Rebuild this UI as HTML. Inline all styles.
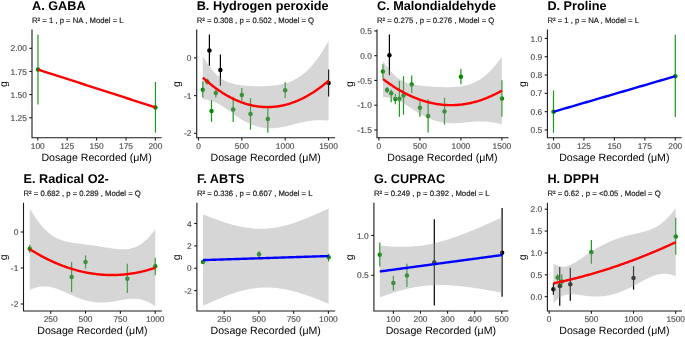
<!DOCTYPE html>
<html><head><meta charset="utf-8"><style>
html,body{margin:0;padding:0;background:#fff;}
svg{display:block;will-change:transform;} text{text-rendering:geometricPrecision;}
</style></head><body>
<svg width="685" height="337" viewBox="0 0 685 337">
<rect width="685" height="337" fill="#fff"/>
<text x="32.00" y="10.10" font-size="12.7" font-weight="bold" fill="#000" font-family="Liberation Sans, sans-serif">A. GABA</text>
<text x="32.00" y="23.10" font-size="7.72" fill="#1a1a1a" stroke="#1a1a1a" stroke-width="0.18" font-family="Liberation Sans, sans-serif">R² = 1 , p = NA , Model = L</text>
<text transform="translate(7.00,84.20) rotate(-90)" text-anchor="middle" font-size="10.5" fill="#000" font-family="Liberation Sans, sans-serif">g</text>
<line x1="37.95" y1="34.60" x2="37.95" y2="104.40" stroke="#1c981c" stroke-width="1.2"/>
<line x1="155.45" y1="82.00" x2="155.45" y2="132.60" stroke="#1c981c" stroke-width="1.2"/>
<circle cx="37.95" cy="69.50" r="2.25" fill="#008b00"/>
<circle cx="155.45" cy="107.40" r="2.25" fill="#008b00"/>
<polyline points="37.95,69.50 38.74,69.75 39.53,70.01 40.32,70.26 41.10,70.52 41.89,70.77 42.68,71.03 43.47,71.28 44.26,71.53 45.05,71.79 45.84,72.04 46.62,72.30 47.41,72.55 48.20,72.81 48.99,73.06 49.78,73.32 50.57,73.57 51.36,73.82 52.14,74.08 52.93,74.33 53.72,74.59 54.51,74.84 55.30,75.10 56.09,75.35 56.88,75.60 57.66,75.86 58.45,76.11 59.24,76.37 60.03,76.62 60.82,76.88 61.61,77.13 62.40,77.39 63.18,77.64 63.97,77.89 64.76,78.15 65.55,78.40 66.34,78.66 67.13,78.91 67.92,79.17 68.71,79.42 69.49,79.67 70.28,79.93 71.07,80.18 71.86,80.44 72.65,80.69 73.44,80.95 74.23,81.20 75.01,81.46 75.80,81.71 76.59,81.96 77.38,82.22 78.17,82.47 78.96,82.73 79.75,82.98 80.53,83.24 81.32,83.49 82.11,83.74 82.90,84.00 83.69,84.25 84.48,84.51 85.27,84.76 86.05,85.02 86.84,85.27 87.63,85.52 88.42,85.78 89.21,86.03 90.00,86.29 90.79,86.54 91.57,86.80 92.36,87.05 93.15,87.31 93.94,87.56 94.73,87.81 95.52,88.07 96.31,88.32 97.09,88.58 97.88,88.83 98.67,89.09 99.46,89.34 100.25,89.59 101.04,89.85 101.83,90.10 102.61,90.36 103.40,90.61 104.19,90.87 104.98,91.12 105.77,91.38 106.56,91.63 107.35,91.88 108.13,92.14 108.92,92.39 109.71,92.65 110.50,92.90 111.29,93.16 112.08,93.41 112.87,93.66 113.65,93.92 114.44,94.17 115.23,94.43 116.02,94.68 116.81,94.94 117.60,95.19 118.39,95.44 119.17,95.70 119.96,95.95 120.75,96.21 121.54,96.46 122.33,96.72 123.12,96.97 123.91,97.23 124.69,97.48 125.48,97.73 126.27,97.99 127.06,98.24 127.85,98.50 128.64,98.75 129.43,99.01 130.22,99.26 131.00,99.51 131.79,99.77 132.58,100.02 133.37,100.28 134.16,100.53 134.95,100.79 135.74,101.04 136.52,101.30 137.31,101.55 138.10,101.80 138.89,102.06 139.68,102.31 140.47,102.57 141.26,102.82 142.04,103.08 142.83,103.33 143.62,103.58 144.41,103.84 145.20,104.09 145.99,104.35 146.78,104.60 147.56,104.86 148.35,105.11 149.14,105.37 149.93,105.62 150.72,105.87 151.51,106.13 152.30,106.38 153.08,106.64 153.87,106.89 154.66,107.15 155.45,107.40" fill="none" stroke="#ff0000" stroke-opacity="1" stroke-width="2.4" stroke-linejoin="round"/>
<path d="M32.00,30.00 V137.80 H161.10" fill="none" stroke="#1a1a1a" stroke-width="1.1" stroke-linecap="square"/>
<line x1="29.30" y1="117.70" x2="32.00" y2="117.70" stroke="#1a1a1a" stroke-width="1.1"/>
<text x="26.80" y="120.80" text-anchor="end" font-size="8.4" fill="#4d4d4d" stroke="#4d4d4d" stroke-width="0.15" font-family="Liberation Sans, sans-serif">1.25</text>
<line x1="29.30" y1="94.57" x2="32.00" y2="94.57" stroke="#1a1a1a" stroke-width="1.1"/>
<text x="26.80" y="97.67" text-anchor="end" font-size="8.4" fill="#4d4d4d" stroke="#4d4d4d" stroke-width="0.15" font-family="Liberation Sans, sans-serif">1.50</text>
<line x1="29.30" y1="71.43" x2="32.00" y2="71.43" stroke="#1a1a1a" stroke-width="1.1"/>
<text x="26.80" y="74.53" text-anchor="end" font-size="8.4" fill="#4d4d4d" stroke="#4d4d4d" stroke-width="0.15" font-family="Liberation Sans, sans-serif">1.75</text>
<line x1="29.30" y1="48.30" x2="32.00" y2="48.30" stroke="#1a1a1a" stroke-width="1.1"/>
<text x="26.80" y="51.40" text-anchor="end" font-size="8.4" fill="#4d4d4d" stroke="#4d4d4d" stroke-width="0.15" font-family="Liberation Sans, sans-serif">2.00</text>
<line x1="37.80" y1="137.80" x2="37.80" y2="140.50" stroke="#1a1a1a" stroke-width="1.1"/>
<text x="37.80" y="148.60" text-anchor="middle" font-size="8.4" fill="#4d4d4d" stroke="#4d4d4d" stroke-width="0.15" font-family="Liberation Sans, sans-serif">100</text>
<line x1="67.20" y1="137.80" x2="67.20" y2="140.50" stroke="#1a1a1a" stroke-width="1.1"/>
<text x="67.20" y="148.60" text-anchor="middle" font-size="8.4" fill="#4d4d4d" stroke="#4d4d4d" stroke-width="0.15" font-family="Liberation Sans, sans-serif">125</text>
<line x1="96.60" y1="137.80" x2="96.60" y2="140.50" stroke="#1a1a1a" stroke-width="1.1"/>
<text x="96.60" y="148.60" text-anchor="middle" font-size="8.4" fill="#4d4d4d" stroke="#4d4d4d" stroke-width="0.15" font-family="Liberation Sans, sans-serif">150</text>
<line x1="126.00" y1="137.80" x2="126.00" y2="140.50" stroke="#1a1a1a" stroke-width="1.1"/>
<text x="126.00" y="148.60" text-anchor="middle" font-size="8.4" fill="#4d4d4d" stroke="#4d4d4d" stroke-width="0.15" font-family="Liberation Sans, sans-serif">175</text>
<line x1="155.40" y1="137.80" x2="155.40" y2="140.50" stroke="#1a1a1a" stroke-width="1.1"/>
<text x="155.40" y="148.60" text-anchor="middle" font-size="8.4" fill="#4d4d4d" stroke="#4d4d4d" stroke-width="0.15" font-family="Liberation Sans, sans-serif">200</text>
<text x="96.55" y="160.90" text-anchor="middle" font-size="10.6" fill="#000" font-family="Liberation Sans, sans-serif">Dosage Recorded (μM)</text>
<text x="196.70" y="10.10" font-size="12.7" font-weight="bold" fill="#000" font-family="Liberation Sans, sans-serif">B. Hydrogen peroxide</text>
<text x="196.70" y="23.10" font-size="7.72" fill="#1a1a1a" stroke="#1a1a1a" stroke-width="0.18" font-family="Liberation Sans, sans-serif">R² = 0.308 , p = 0.502 , Model = Q</text>
<text transform="translate(180.10,84.20) rotate(-90)" text-anchor="middle" font-size="10.5" fill="#000" font-family="Liberation Sans, sans-serif">g</text>
<line x1="202.83" y1="81.20" x2="202.83" y2="97.60" stroke="#1c981c" stroke-width="1.2"/>
<line x1="207.17" y1="78.70" x2="207.17" y2="84.50" stroke="#1c981c" stroke-width="1.2"/>
<line x1="209.40" y1="34.60" x2="209.40" y2="65.70" stroke="#000000" stroke-width="1.2"/>
<line x1="211.50" y1="100.00" x2="211.50" y2="121.80" stroke="#1c981c" stroke-width="1.2"/>
<line x1="215.83" y1="89.10" x2="215.83" y2="97.40" stroke="#1c981c" stroke-width="1.2"/>
<line x1="220.40" y1="54.50" x2="220.40" y2="85.70" stroke="#000000" stroke-width="1.2"/>
<line x1="233.17" y1="96.70" x2="233.17" y2="122.00" stroke="#1c981c" stroke-width="1.2"/>
<line x1="241.83" y1="87.90" x2="241.83" y2="101.00" stroke="#1c981c" stroke-width="1.2"/>
<line x1="250.50" y1="98.30" x2="250.50" y2="129.70" stroke="#1c981c" stroke-width="1.2"/>
<line x1="267.83" y1="105.60" x2="267.83" y2="132.70" stroke="#1c981c" stroke-width="1.2"/>
<line x1="285.17" y1="82.30" x2="285.17" y2="98.10" stroke="#1c981c" stroke-width="1.2"/>
<line x1="328.60" y1="69.50" x2="328.60" y2="96.60" stroke="#000000" stroke-width="1.2"/>
<circle cx="202.83" cy="89.70" r="2.25" fill="#008b00"/>
<circle cx="207.17" cy="81.40" r="2.25" fill="#008b00"/>
<circle cx="209.40" cy="50.40" r="2.25" fill="#000"/>
<circle cx="211.50" cy="110.90" r="2.25" fill="#008b00"/>
<circle cx="215.83" cy="92.90" r="2.25" fill="#008b00"/>
<circle cx="220.40" cy="69.90" r="2.25" fill="#000"/>
<circle cx="233.17" cy="109.60" r="2.25" fill="#008b00"/>
<circle cx="241.83" cy="95.00" r="2.25" fill="#008b00"/>
<circle cx="250.50" cy="114.00" r="2.25" fill="#008b00"/>
<circle cx="267.83" cy="118.90" r="2.25" fill="#008b00"/>
<circle cx="285.17" cy="90.20" r="2.25" fill="#008b00"/>
<circle cx="328.60" cy="83.00" r="2.25" fill="#000"/>
<polygon points="202.83,56.04 203.68,57.47 204.52,58.86 205.37,60.22 206.21,61.54 207.05,62.83 207.90,64.08 208.74,65.30 209.59,66.47 210.43,67.61 211.27,68.71 212.12,69.76 212.96,70.78 213.81,71.75 214.65,72.68 215.49,73.57 216.34,74.42 217.18,75.23 218.03,75.99 218.87,76.71 219.71,77.39 220.56,78.03 221.40,78.63 222.25,79.19 223.09,79.72 223.94,80.22 224.78,80.68 225.62,81.10 226.47,81.50 227.31,81.87 228.16,82.22 229.00,82.54 229.84,82.84 230.69,83.11 231.53,83.37 232.38,83.61 233.22,83.83 234.06,84.03 234.91,84.22 235.75,84.40 236.60,84.56 237.44,84.72 238.28,84.86 239.13,84.99 239.97,85.11 240.82,85.22 241.66,85.33 242.50,85.43 243.35,85.52 244.19,85.60 245.04,85.68 245.88,85.75 246.73,85.81 247.57,85.87 248.41,85.93 249.26,85.98 250.10,86.02 250.95,86.06 251.79,86.10 252.63,86.13 253.48,86.16 254.32,86.18 255.17,86.20 256.01,86.21 256.85,86.22 257.70,86.23 258.54,86.23 259.39,86.23 260.23,86.22 261.07,86.21 261.92,86.20 262.76,86.18 263.61,86.16 264.45,86.13 265.29,86.10 266.14,86.06 266.98,86.02 267.83,85.97 268.67,85.92 269.51,85.86 270.36,85.79 271.20,85.72 272.05,85.64 272.89,85.56 273.74,85.46 274.58,85.36 275.42,85.26 276.27,85.14 277.11,85.02 277.96,84.89 278.80,84.74 279.64,84.59 280.49,84.43 281.33,84.26 282.18,84.07 283.02,83.88 283.86,83.67 284.71,83.45 285.55,83.21 286.40,82.97 287.24,82.70 288.08,82.42 288.93,82.13 289.77,81.82 290.62,81.49 291.46,81.14 292.30,80.78 293.15,80.40 293.99,79.99 294.84,79.57 295.68,79.12 296.53,78.66 297.37,78.17 298.21,77.65 299.06,77.12 299.90,76.56 300.75,75.97 301.59,75.36 302.43,74.72 303.28,74.06 304.12,73.37 304.97,72.65 305.81,71.91 306.65,71.13 307.50,70.33 308.34,69.50 309.19,68.64 310.03,67.76 310.87,66.84 311.72,65.89 312.56,64.92 313.41,63.91 314.25,62.88 315.09,61.82 315.94,60.72 316.78,59.60 317.63,58.45 318.47,57.27 319.32,56.06 320.16,54.82 321.00,53.55 321.85,52.26 322.69,50.93 323.54,49.58 324.38,48.20 325.22,46.79 326.07,45.35 326.91,43.88 327.76,42.39 328.60,40.86 328.60,120.58 327.76,120.50 326.91,120.44 326.07,120.38 325.22,120.32 324.38,120.28 323.54,120.24 322.69,120.22 321.85,120.20 321.00,120.19 320.16,120.18 319.32,120.19 318.47,120.21 317.63,120.23 316.78,120.26 315.94,120.31 315.09,120.36 314.25,120.42 313.41,120.49 312.56,120.57 311.72,120.66 310.87,120.76 310.03,120.87 309.19,120.99 308.34,121.11 307.50,121.25 306.65,121.39 305.81,121.54 304.97,121.70 304.12,121.86 303.28,122.04 302.43,122.22 301.59,122.40 300.75,122.59 299.90,122.79 299.06,122.99 298.21,123.20 297.37,123.41 296.53,123.62 295.68,123.84 294.84,124.05 293.99,124.27 293.15,124.49 292.30,124.71 291.46,124.92 290.62,125.14 289.77,125.35 288.93,125.56 288.08,125.77 287.24,125.97 286.40,126.17 285.55,126.36 284.71,126.55 283.86,126.73 283.02,126.90 282.18,127.07 281.33,127.22 280.49,127.37 279.64,127.51 278.80,127.63 277.96,127.75 277.11,127.86 276.27,127.95 275.42,128.04 274.58,128.11 273.74,128.17 272.89,128.22 272.05,128.25 271.20,128.27 270.36,128.28 269.51,128.27 268.67,128.25 267.83,128.22 266.98,128.17 266.14,128.10 265.29,128.02 264.45,127.93 263.61,127.82 262.76,127.69 261.92,127.55 261.07,127.39 260.23,127.22 259.39,127.03 258.54,126.83 257.70,126.60 256.85,126.37 256.01,126.11 255.17,125.85 254.32,125.56 253.48,125.26 252.63,124.94 251.79,124.61 250.95,124.26 250.10,123.90 249.26,123.52 248.41,123.12 247.57,122.71 246.73,122.29 245.88,121.85 245.04,121.39 244.19,120.93 243.35,120.44 242.50,119.95 241.66,119.44 240.82,118.92 239.97,118.39 239.13,117.84 238.28,117.29 237.44,116.72 236.60,116.15 235.75,115.57 234.91,114.98 234.06,114.38 233.22,113.78 232.38,113.17 231.53,112.56 230.69,111.95 229.84,111.34 229.00,110.73 228.16,110.13 227.31,109.52 226.47,108.93 225.62,108.34 224.78,107.76 223.94,107.19 223.09,106.63 222.25,106.09 221.40,105.57 220.56,105.06 219.71,104.57 218.87,104.10 218.03,103.66 217.18,103.23 216.34,102.83 215.49,102.44 214.65,102.08 213.81,101.75 212.96,101.43 212.12,101.14 211.27,100.86 210.43,100.61 209.59,100.38 208.74,100.16 207.90,99.97 207.05,99.79 206.21,99.62 205.37,99.48 204.52,99.34 203.68,99.23 202.83,99.12" fill="#999999" fill-opacity="0.4" stroke="none"/>
<polyline points="202.83,77.58 203.68,78.35 204.52,79.10 205.37,79.85 206.21,80.58 207.05,81.31 207.90,82.02 208.74,82.73 209.59,83.42 210.43,84.11 211.27,84.78 212.12,85.45 212.96,86.10 213.81,86.75 214.65,87.38 215.49,88.01 216.34,88.62 217.18,89.23 218.03,89.82 218.87,90.41 219.71,90.98 220.56,91.55 221.40,92.10 222.25,92.64 223.09,93.18 223.94,93.70 224.78,94.22 225.62,94.72 226.47,95.21 227.31,95.70 228.16,96.17 229.00,96.64 229.84,97.09 230.69,97.53 231.53,97.97 232.38,98.39 233.22,98.80 234.06,99.21 234.91,99.60 235.75,99.98 236.60,100.36 237.44,100.72 238.28,101.07 239.13,101.42 239.97,101.75 240.82,102.07 241.66,102.38 242.50,102.69 243.35,102.98 244.19,103.26 245.04,103.54 245.88,103.80 246.73,104.05 247.57,104.29 248.41,104.53 249.26,104.75 250.10,104.96 250.95,105.16 251.79,105.35 252.63,105.54 253.48,105.71 254.32,105.87 255.17,106.02 256.01,106.16 256.85,106.30 257.70,106.42 258.54,106.53 259.39,106.63 260.23,106.72 261.07,106.80 261.92,106.87 262.76,106.94 263.61,106.99 264.45,107.03 265.29,107.06 266.14,107.08 266.98,107.09 267.83,107.09 268.67,107.08 269.51,107.06 270.36,107.03 271.20,107.00 272.05,106.95 272.89,106.89 273.74,106.82 274.58,106.74 275.42,106.65 276.27,106.55 277.11,106.44 277.96,106.32 278.80,106.19 279.64,106.05 280.49,105.90 281.33,105.74 282.18,105.57 283.02,105.39 283.86,105.20 284.71,105.00 285.55,104.79 286.40,104.57 287.24,104.34 288.08,104.10 288.93,103.85 289.77,103.59 290.62,103.31 291.46,103.03 292.30,102.74 293.15,102.44 293.99,102.13 294.84,101.81 295.68,101.48 296.53,101.14 297.37,100.79 298.21,100.43 299.06,100.05 299.90,99.67 300.75,99.28 301.59,98.88 302.43,98.47 303.28,98.05 304.12,97.62 304.97,97.17 305.81,96.72 306.65,96.26 307.50,95.79 308.34,95.31 309.19,94.81 310.03,94.31 310.87,93.80 311.72,93.28 312.56,92.75 313.41,92.20 314.25,91.65 315.09,91.09 315.94,90.52 316.78,89.93 317.63,89.34 318.47,88.74 319.32,88.13 320.16,87.50 321.00,86.87 321.85,86.23 322.69,85.57 323.54,84.91 324.38,84.24 325.22,83.55 326.07,82.86 326.91,82.16 327.76,81.44 328.60,80.72" fill="none" stroke="#ff0000" stroke-opacity="1" stroke-width="2.4" stroke-linejoin="round"/>
<path d="M196.70,30.00 V137.80 H334.60" fill="none" stroke="#1a1a1a" stroke-width="1.1" stroke-linecap="square"/>
<line x1="194.00" y1="133.30" x2="196.70" y2="133.30" stroke="#1a1a1a" stroke-width="1.1"/>
<text x="191.50" y="136.40" text-anchor="end" font-size="8.4" fill="#4d4d4d" stroke="#4d4d4d" stroke-width="0.15" font-family="Liberation Sans, sans-serif">-2</text>
<line x1="194.00" y1="95.60" x2="196.70" y2="95.60" stroke="#1a1a1a" stroke-width="1.1"/>
<text x="191.50" y="98.70" text-anchor="end" font-size="8.4" fill="#4d4d4d" stroke="#4d4d4d" stroke-width="0.15" font-family="Liberation Sans, sans-serif">-1</text>
<line x1="194.00" y1="57.90" x2="196.70" y2="57.90" stroke="#1a1a1a" stroke-width="1.1"/>
<text x="191.50" y="61.00" text-anchor="end" font-size="8.4" fill="#4d4d4d" stroke="#4d4d4d" stroke-width="0.15" font-family="Liberation Sans, sans-serif">0</text>
<line x1="198.50" y1="137.80" x2="198.50" y2="140.50" stroke="#1a1a1a" stroke-width="1.1"/>
<text x="198.50" y="148.60" text-anchor="middle" font-size="8.4" fill="#4d4d4d" stroke="#4d4d4d" stroke-width="0.15" font-family="Liberation Sans, sans-serif">0</text>
<line x1="241.83" y1="137.80" x2="241.83" y2="140.50" stroke="#1a1a1a" stroke-width="1.1"/>
<text x="241.83" y="148.60" text-anchor="middle" font-size="8.4" fill="#4d4d4d" stroke="#4d4d4d" stroke-width="0.15" font-family="Liberation Sans, sans-serif">500</text>
<line x1="285.17" y1="137.80" x2="285.17" y2="140.50" stroke="#1a1a1a" stroke-width="1.1"/>
<text x="285.17" y="148.60" text-anchor="middle" font-size="8.4" fill="#4d4d4d" stroke="#4d4d4d" stroke-width="0.15" font-family="Liberation Sans, sans-serif">1000</text>
<line x1="328.50" y1="137.80" x2="328.50" y2="140.50" stroke="#1a1a1a" stroke-width="1.1"/>
<text x="328.50" y="148.60" text-anchor="middle" font-size="8.4" fill="#4d4d4d" stroke="#4d4d4d" stroke-width="0.15" font-family="Liberation Sans, sans-serif">1500</text>
<text x="265.65" y="160.90" text-anchor="middle" font-size="10.6" fill="#000" font-family="Liberation Sans, sans-serif">Dosage Recorded (μM)</text>
<text x="377.00" y="10.10" font-size="12.7" font-weight="bold" fill="#000" font-family="Liberation Sans, sans-serif">C. Malondialdehyde</text>
<text x="377.00" y="23.10" font-size="7.72" fill="#1a1a1a" stroke="#1a1a1a" stroke-width="0.18" font-family="Liberation Sans, sans-serif">R² = 0.275 , p = 0.276 , Model = Q</text>
<text transform="translate(353.00,84.20) rotate(-90)" text-anchor="middle" font-size="10.5" fill="#000" font-family="Liberation Sans, sans-serif">g</text>
<line x1="383.00" y1="64.30" x2="383.00" y2="78.80" stroke="#1c981c" stroke-width="1.2"/>
<line x1="387.10" y1="87.00" x2="387.10" y2="92.90" stroke="#1c981c" stroke-width="1.2"/>
<line x1="389.40" y1="34.60" x2="389.40" y2="75.30" stroke="#000000" stroke-width="1.2"/>
<line x1="391.20" y1="89.70" x2="391.20" y2="102.20" stroke="#1c981c" stroke-width="1.2"/>
<line x1="395.30" y1="93.90" x2="395.30" y2="104.30" stroke="#1c981c" stroke-width="1.2"/>
<line x1="399.40" y1="80.80" x2="399.40" y2="116.70" stroke="#1c981c" stroke-width="1.2"/>
<line x1="403.50" y1="76.20" x2="403.50" y2="114.70" stroke="#1c981c" stroke-width="1.2"/>
<line x1="411.70" y1="75.60" x2="411.70" y2="92.90" stroke="#1c981c" stroke-width="1.2"/>
<line x1="419.90" y1="101.20" x2="419.90" y2="116.70" stroke="#1c981c" stroke-width="1.2"/>
<line x1="428.10" y1="99.20" x2="428.10" y2="132.40" stroke="#1c981c" stroke-width="1.2"/>
<line x1="444.50" y1="97.80" x2="444.50" y2="124.60" stroke="#1c981c" stroke-width="1.2"/>
<line x1="460.90" y1="69.00" x2="460.90" y2="84.30" stroke="#1c981c" stroke-width="1.2"/>
<line x1="501.90" y1="80.30" x2="501.90" y2="116.70" stroke="#1c981c" stroke-width="1.2"/>
<circle cx="383.00" cy="71.50" r="2.25" fill="#008b00"/>
<circle cx="387.10" cy="90.10" r="2.25" fill="#008b00"/>
<circle cx="389.40" cy="55.30" r="2.25" fill="#000"/>
<circle cx="391.20" cy="93.30" r="2.25" fill="#008b00"/>
<circle cx="395.30" cy="99.10" r="2.25" fill="#008b00"/>
<circle cx="399.40" cy="98.70" r="2.25" fill="#008b00"/>
<circle cx="403.50" cy="95.60" r="2.25" fill="#008b00"/>
<circle cx="411.70" cy="84.50" r="2.25" fill="#008b00"/>
<circle cx="419.90" cy="107.80" r="2.25" fill="#008b00"/>
<circle cx="428.10" cy="115.90" r="2.25" fill="#008b00"/>
<circle cx="444.50" cy="111.40" r="2.25" fill="#008b00"/>
<circle cx="460.90" cy="76.70" r="2.25" fill="#008b00"/>
<circle cx="501.90" cy="98.40" r="2.25" fill="#008b00"/>
<polygon points="383.00,60.90 383.80,62.09 384.60,63.25 385.39,64.38 386.19,65.48 386.99,66.56 387.79,67.61 388.59,68.62 389.38,69.61 390.18,70.56 390.98,71.49 391.78,72.37 392.58,73.23 393.37,74.05 394.17,74.84 394.97,75.59 395.77,76.30 396.57,76.98 397.36,77.62 398.16,78.23 398.96,78.81 399.76,79.35 400.56,79.85 401.35,80.33 402.15,80.77 402.95,81.18 403.75,81.57 404.55,81.93 405.34,82.26 406.14,82.57 406.94,82.86 407.74,83.13 408.54,83.38 409.33,83.61 410.13,83.83 410.93,84.03 411.73,84.22 412.53,84.39 413.32,84.56 414.12,84.71 414.92,84.85 415.72,84.99 416.52,85.11 417.31,85.23 418.11,85.35 418.91,85.45 419.71,85.55 420.51,85.65 421.30,85.74 422.10,85.83 422.90,85.91 423.70,85.99 424.50,86.07 425.29,86.14 426.09,86.21 426.89,86.27 427.69,86.34 428.49,86.40 429.28,86.46 430.08,86.52 430.88,86.57 431.68,86.62 432.48,86.67 433.27,86.72 434.07,86.77 434.87,86.81 435.67,86.86 436.47,86.90 437.26,86.93 438.06,86.97 438.86,87.00 439.66,87.04 440.46,87.06 441.25,87.09 442.05,87.11 442.85,87.14 443.65,87.15 444.44,87.17 445.24,87.18 446.04,87.19 446.84,87.19 447.64,87.19 448.43,87.19 449.23,87.18 450.03,87.17 450.83,87.15 451.63,87.13 452.42,87.10 453.22,87.06 454.02,87.02 454.82,86.97 455.62,86.92 456.41,86.86 457.21,86.79 458.01,86.71 458.81,86.63 459.61,86.53 460.40,86.43 461.20,86.31 462.00,86.19 462.80,86.05 463.60,85.90 464.39,85.74 465.19,85.57 465.99,85.39 466.79,85.19 467.59,84.97 468.38,84.74 469.18,84.50 469.98,84.24 470.78,83.96 471.58,83.67 472.37,83.36 473.17,83.03 473.97,82.68 474.77,82.32 475.57,81.93 476.36,81.52 477.16,81.10 477.96,80.65 478.76,80.18 479.56,79.69 480.35,79.18 481.15,78.65 481.95,78.09 482.75,77.51 483.55,76.91 484.34,76.28 485.14,75.64 485.94,74.96 486.74,74.27 487.54,73.55 488.33,72.81 489.13,72.05 489.93,71.26 490.73,70.45 491.53,69.61 492.32,68.76 493.12,67.87 493.92,66.97 494.72,66.04 495.52,65.09 496.31,64.12 497.11,63.12 497.91,62.10 498.71,61.06 499.51,60.00 500.30,58.91 501.10,57.81 501.90,56.68 501.90,124.46 501.10,124.24 500.30,124.03 499.51,123.82 498.71,123.62 497.91,123.43 497.11,123.25 496.31,123.07 495.52,122.91 494.72,122.75 493.92,122.60 493.12,122.46 492.32,122.33 491.53,122.21 490.73,122.10 489.93,121.99 489.13,121.90 488.33,121.81 487.54,121.73 486.74,121.67 485.94,121.61 485.14,121.56 484.34,121.51 483.55,121.48 482.75,121.46 481.95,121.44 481.15,121.43 480.35,121.44 479.56,121.44 478.76,121.46 477.96,121.48 477.16,121.51 476.36,121.55 475.57,121.59 474.77,121.64 473.97,121.69 473.17,121.75 472.37,121.81 471.58,121.88 470.78,121.95 469.98,122.02 469.18,122.09 468.38,122.17 467.59,122.24 466.79,122.32 465.99,122.40 465.19,122.47 464.39,122.55 463.60,122.62 462.80,122.69 462.00,122.76 461.20,122.83 460.40,122.89 459.61,122.94 458.81,122.99 458.01,123.04 457.21,123.08 456.41,123.12 455.62,123.14 454.82,123.16 454.02,123.18 453.22,123.18 452.42,123.18 451.63,123.17 450.83,123.15 450.03,123.12 449.23,123.08 448.43,123.03 447.64,122.98 446.84,122.91 446.04,122.83 445.24,122.74 444.44,122.64 443.65,122.53 442.85,122.41 442.05,122.27 441.25,122.13 440.46,121.97 439.66,121.80 438.86,121.62 438.06,121.43 437.26,121.22 436.47,121.00 435.67,120.78 434.87,120.53 434.07,120.28 433.27,120.01 432.48,119.73 431.68,119.44 430.88,119.14 430.08,118.83 429.28,118.50 428.49,118.16 427.69,117.81 426.89,117.44 426.09,117.07 425.29,116.68 424.50,116.28 423.70,115.87 422.90,115.45 422.10,115.02 421.30,114.58 420.51,114.13 419.71,113.67 418.91,113.20 418.11,112.72 417.31,112.23 416.52,111.74 415.72,111.24 414.92,110.73 414.12,110.21 413.32,109.69 412.53,109.17 411.73,108.65 410.93,108.12 410.13,107.59 409.33,107.06 408.54,106.54 407.74,106.01 406.94,105.50 406.14,104.98 405.34,104.48 404.55,103.98 403.75,103.50 402.95,103.03 402.15,102.57 401.35,102.12 400.56,101.70 399.76,101.29 398.96,100.90 398.16,100.52 397.36,100.17 396.57,99.84 395.77,99.54 394.97,99.25 394.17,98.98 393.37,98.74 392.58,98.51 391.78,98.31 390.98,98.12 390.18,97.96 389.38,97.81 388.59,97.68 387.79,97.56 386.99,97.46 386.19,97.38 385.39,97.31 384.60,97.25 383.80,97.21 383.00,97.18" fill="#999999" fill-opacity="0.4" stroke="none"/>
<polyline points="383.00,79.04 383.80,79.65 384.60,80.25 385.39,80.84 386.19,81.43 386.99,82.01 387.79,82.58 388.59,83.15 389.38,83.71 390.18,84.26 390.98,84.80 391.78,85.34 392.58,85.87 393.37,86.39 394.17,86.91 394.97,87.42 395.77,87.92 396.57,88.41 397.36,88.90 398.16,89.38 398.96,89.85 399.76,90.32 400.56,90.77 401.35,91.22 402.15,91.67 402.95,92.10 403.75,92.53 404.55,92.96 405.34,93.37 406.14,93.78 406.94,94.18 407.74,94.57 408.54,94.96 409.33,95.34 410.13,95.71 410.93,96.07 411.73,96.43 412.53,96.78 413.32,97.13 414.12,97.46 414.92,97.79 415.72,98.11 416.52,98.43 417.31,98.73 418.11,99.03 418.91,99.33 419.71,99.61 420.51,99.89 421.30,100.16 422.10,100.43 422.90,100.68 423.70,100.93 424.50,101.17 425.29,101.41 426.09,101.64 426.89,101.86 427.69,102.07 428.49,102.28 429.28,102.48 430.08,102.67 430.88,102.86 431.68,103.03 432.48,103.20 433.27,103.37 434.07,103.52 434.87,103.67 435.67,103.82 436.47,103.95 437.26,104.08 438.06,104.20 438.86,104.31 439.66,104.42 440.46,104.52 441.25,104.61 442.05,104.69 442.85,104.77 443.65,104.84 444.44,104.90 445.24,104.96 446.04,105.01 446.84,105.05 447.64,105.08 448.43,105.11 449.23,105.13 450.03,105.14 450.83,105.15 451.63,105.15 452.42,105.14 453.22,105.12 454.02,105.10 454.82,105.07 455.62,105.03 456.41,104.99 457.21,104.94 458.01,104.88 458.81,104.81 459.61,104.74 460.40,104.66 461.20,104.57 462.00,104.47 462.80,104.37 463.60,104.26 464.39,104.15 465.19,104.02 465.99,103.89 466.79,103.75 467.59,103.61 468.38,103.46 469.18,103.30 469.98,103.13 470.78,102.96 471.58,102.77 472.37,102.59 473.17,102.39 473.97,102.19 474.77,101.98 475.57,101.76 476.36,101.54 477.16,101.30 477.96,101.07 478.76,100.82 479.56,100.57 480.35,100.31 481.15,100.04 481.95,99.77 482.75,99.48 483.55,99.20 484.34,98.90 485.14,98.60 485.94,98.29 486.74,97.97 487.54,97.64 488.33,97.31 489.13,96.97 489.93,96.63 490.73,96.27 491.53,95.91 492.32,95.54 493.12,95.17 493.92,94.79 494.72,94.40 495.52,94.00 496.31,93.60 497.11,93.19 497.91,92.77 498.71,92.34 499.51,91.91 500.30,91.47 501.10,91.02 501.90,90.57" fill="none" stroke="#ff0000" stroke-opacity="1" stroke-width="2.4" stroke-linejoin="round"/>
<path d="M377.00,30.00 V137.80 H508.00" fill="none" stroke="#1a1a1a" stroke-width="1.1" stroke-linecap="square"/>
<line x1="374.30" y1="130.00" x2="377.00" y2="130.00" stroke="#1a1a1a" stroke-width="1.1"/>
<text x="371.80" y="133.10" text-anchor="end" font-size="8.4" fill="#4d4d4d" stroke="#4d4d4d" stroke-width="0.15" font-family="Liberation Sans, sans-serif">-1.5</text>
<line x1="374.30" y1="105.22" x2="377.00" y2="105.22" stroke="#1a1a1a" stroke-width="1.1"/>
<text x="371.80" y="108.32" text-anchor="end" font-size="8.4" fill="#4d4d4d" stroke="#4d4d4d" stroke-width="0.15" font-family="Liberation Sans, sans-serif">-1.0</text>
<line x1="374.30" y1="80.45" x2="377.00" y2="80.45" stroke="#1a1a1a" stroke-width="1.1"/>
<text x="371.80" y="83.55" text-anchor="end" font-size="8.4" fill="#4d4d4d" stroke="#4d4d4d" stroke-width="0.15" font-family="Liberation Sans, sans-serif">-0.5</text>
<line x1="374.30" y1="55.67" x2="377.00" y2="55.67" stroke="#1a1a1a" stroke-width="1.1"/>
<text x="371.80" y="58.77" text-anchor="end" font-size="8.4" fill="#4d4d4d" stroke="#4d4d4d" stroke-width="0.15" font-family="Liberation Sans, sans-serif">0.0</text>
<line x1="374.30" y1="30.90" x2="377.00" y2="30.90" stroke="#1a1a1a" stroke-width="1.1"/>
<text x="371.80" y="34.00" text-anchor="end" font-size="8.4" fill="#4d4d4d" stroke="#4d4d4d" stroke-width="0.15" font-family="Liberation Sans, sans-serif">0.5</text>
<line x1="378.90" y1="137.80" x2="378.90" y2="140.50" stroke="#1a1a1a" stroke-width="1.1"/>
<text x="378.90" y="148.60" text-anchor="middle" font-size="8.4" fill="#4d4d4d" stroke="#4d4d4d" stroke-width="0.15" font-family="Liberation Sans, sans-serif">0</text>
<line x1="419.90" y1="137.80" x2="419.90" y2="140.50" stroke="#1a1a1a" stroke-width="1.1"/>
<text x="419.90" y="148.60" text-anchor="middle" font-size="8.4" fill="#4d4d4d" stroke="#4d4d4d" stroke-width="0.15" font-family="Liberation Sans, sans-serif">500</text>
<line x1="460.90" y1="137.80" x2="460.90" y2="140.50" stroke="#1a1a1a" stroke-width="1.1"/>
<text x="460.90" y="148.60" text-anchor="middle" font-size="8.4" fill="#4d4d4d" stroke="#4d4d4d" stroke-width="0.15" font-family="Liberation Sans, sans-serif">1000</text>
<line x1="501.90" y1="137.80" x2="501.90" y2="140.50" stroke="#1a1a1a" stroke-width="1.1"/>
<text x="501.90" y="148.60" text-anchor="middle" font-size="8.4" fill="#4d4d4d" stroke="#4d4d4d" stroke-width="0.15" font-family="Liberation Sans, sans-serif">1500</text>
<text x="442.50" y="160.90" text-anchor="middle" font-size="10.6" fill="#000" font-family="Liberation Sans, sans-serif">Dosage Recorded (μM)</text>
<text x="547.40" y="10.10" font-size="12.7" font-weight="bold" fill="#000" font-family="Liberation Sans, sans-serif">D. Proline</text>
<text x="547.40" y="23.10" font-size="7.72" fill="#1a1a1a" stroke="#1a1a1a" stroke-width="0.18" font-family="Liberation Sans, sans-serif">R² = 1 , p = NA , Model = L</text>
<text transform="translate(526.30,84.20) rotate(-90)" text-anchor="middle" font-size="10.5" fill="#000" font-family="Liberation Sans, sans-serif">g</text>
<line x1="553.50" y1="90.50" x2="553.50" y2="132.80" stroke="#1c981c" stroke-width="1.2"/>
<line x1="675.30" y1="34.70" x2="675.30" y2="117.10" stroke="#1c981c" stroke-width="1.2"/>
<circle cx="553.50" cy="111.80" r="2.25" fill="#008b00"/>
<circle cx="675.30" cy="76.20" r="2.25" fill="#008b00"/>
<polyline points="553.50,111.80 554.32,111.56 555.13,111.32 555.95,111.08 556.77,110.84 557.59,110.61 558.40,110.37 559.22,110.13 560.04,109.89 560.86,109.65 561.67,109.41 562.49,109.17 563.31,108.93 564.13,108.69 564.94,108.46 565.76,108.22 566.58,107.98 567.40,107.74 568.21,107.50 569.03,107.26 569.85,107.02 570.67,106.78 571.48,106.54 572.30,106.30 573.12,106.07 573.94,105.83 574.75,105.59 575.57,105.35 576.39,105.11 577.21,104.87 578.02,104.63 578.84,104.39 579.66,104.15 580.48,103.92 581.29,103.68 582.11,103.44 582.93,103.20 583.75,102.96 584.56,102.72 585.38,102.48 586.20,102.24 587.02,102.00 587.83,101.77 588.65,101.53 589.47,101.29 590.29,101.05 591.10,100.81 591.92,100.57 592.74,100.33 593.56,100.09 594.37,99.85 595.19,99.61 596.01,99.38 596.82,99.14 597.64,98.90 598.46,98.66 599.28,98.42 600.09,98.18 600.91,97.94 601.73,97.70 602.55,97.46 603.36,97.23 604.18,96.99 605.00,96.75 605.82,96.51 606.63,96.27 607.45,96.03 608.27,95.79 609.09,95.55 609.90,95.31 610.72,95.08 611.54,94.84 612.36,94.60 613.17,94.36 613.99,94.12 614.81,93.88 615.63,93.64 616.44,93.40 617.26,93.16 618.08,92.92 618.90,92.69 619.71,92.45 620.53,92.21 621.35,91.97 622.17,91.73 622.98,91.49 623.80,91.25 624.62,91.01 625.44,90.77 626.25,90.54 627.07,90.30 627.89,90.06 628.71,89.82 629.52,89.58 630.34,89.34 631.16,89.10 631.98,88.86 632.79,88.62 633.61,88.39 634.43,88.15 635.24,87.91 636.06,87.67 636.88,87.43 637.70,87.19 638.51,86.95 639.33,86.71 640.15,86.47 640.97,86.23 641.78,86.00 642.60,85.76 643.42,85.52 644.24,85.28 645.05,85.04 645.87,84.80 646.69,84.56 647.51,84.32 648.32,84.08 649.14,83.85 649.96,83.61 650.78,83.37 651.59,83.13 652.41,82.89 653.23,82.65 654.05,82.41 654.86,82.17 655.68,81.93 656.50,81.70 657.32,81.46 658.13,81.22 658.95,80.98 659.77,80.74 660.59,80.50 661.40,80.26 662.22,80.02 663.04,79.78 663.86,79.54 664.67,79.31 665.49,79.07 666.31,78.83 667.13,78.59 667.94,78.35 668.76,78.11 669.58,77.87 670.40,77.63 671.21,77.39 672.03,77.16 672.85,76.92 673.67,76.68 674.48,76.44 675.30,76.20" fill="none" stroke="#0000ff" stroke-opacity="1" stroke-width="2.4" stroke-linejoin="round"/>
<path d="M547.40,30.00 V137.80 H681.20" fill="none" stroke="#1a1a1a" stroke-width="1.1" stroke-linecap="square"/>
<line x1="544.70" y1="130.00" x2="547.40" y2="130.00" stroke="#1a1a1a" stroke-width="1.1"/>
<text x="542.20" y="133.10" text-anchor="end" font-size="8.4" fill="#4d4d4d" stroke="#4d4d4d" stroke-width="0.15" font-family="Liberation Sans, sans-serif">0.5</text>
<line x1="544.70" y1="111.68" x2="547.40" y2="111.68" stroke="#1a1a1a" stroke-width="1.1"/>
<text x="542.20" y="114.78" text-anchor="end" font-size="8.4" fill="#4d4d4d" stroke="#4d4d4d" stroke-width="0.15" font-family="Liberation Sans, sans-serif">0.6</text>
<line x1="544.70" y1="93.36" x2="547.40" y2="93.36" stroke="#1a1a1a" stroke-width="1.1"/>
<text x="542.20" y="96.46" text-anchor="end" font-size="8.4" fill="#4d4d4d" stroke="#4d4d4d" stroke-width="0.15" font-family="Liberation Sans, sans-serif">0.7</text>
<line x1="544.70" y1="75.04" x2="547.40" y2="75.04" stroke="#1a1a1a" stroke-width="1.1"/>
<text x="542.20" y="78.14" text-anchor="end" font-size="8.4" fill="#4d4d4d" stroke="#4d4d4d" stroke-width="0.15" font-family="Liberation Sans, sans-serif">0.8</text>
<line x1="544.70" y1="56.72" x2="547.40" y2="56.72" stroke="#1a1a1a" stroke-width="1.1"/>
<text x="542.20" y="59.82" text-anchor="end" font-size="8.4" fill="#4d4d4d" stroke="#4d4d4d" stroke-width="0.15" font-family="Liberation Sans, sans-serif">0.9</text>
<line x1="544.70" y1="38.40" x2="547.40" y2="38.40" stroke="#1a1a1a" stroke-width="1.1"/>
<text x="542.20" y="41.50" text-anchor="end" font-size="8.4" fill="#4d4d4d" stroke="#4d4d4d" stroke-width="0.15" font-family="Liberation Sans, sans-serif">1.0</text>
<line x1="553.50" y1="137.80" x2="553.50" y2="140.50" stroke="#1a1a1a" stroke-width="1.1"/>
<text x="553.50" y="148.60" text-anchor="middle" font-size="8.4" fill="#4d4d4d" stroke="#4d4d4d" stroke-width="0.15" font-family="Liberation Sans, sans-serif">100</text>
<line x1="583.95" y1="137.80" x2="583.95" y2="140.50" stroke="#1a1a1a" stroke-width="1.1"/>
<text x="583.95" y="148.60" text-anchor="middle" font-size="8.4" fill="#4d4d4d" stroke="#4d4d4d" stroke-width="0.15" font-family="Liberation Sans, sans-serif">125</text>
<line x1="614.40" y1="137.80" x2="614.40" y2="140.50" stroke="#1a1a1a" stroke-width="1.1"/>
<text x="614.40" y="148.60" text-anchor="middle" font-size="8.4" fill="#4d4d4d" stroke="#4d4d4d" stroke-width="0.15" font-family="Liberation Sans, sans-serif">150</text>
<line x1="644.85" y1="137.80" x2="644.85" y2="140.50" stroke="#1a1a1a" stroke-width="1.1"/>
<text x="644.85" y="148.60" text-anchor="middle" font-size="8.4" fill="#4d4d4d" stroke="#4d4d4d" stroke-width="0.15" font-family="Liberation Sans, sans-serif">175</text>
<line x1="675.30" y1="137.80" x2="675.30" y2="140.50" stroke="#1a1a1a" stroke-width="1.1"/>
<text x="675.30" y="148.60" text-anchor="middle" font-size="8.4" fill="#4d4d4d" stroke="#4d4d4d" stroke-width="0.15" font-family="Liberation Sans, sans-serif">200</text>
<text x="614.30" y="160.90" text-anchor="middle" font-size="10.6" fill="#000" font-family="Liberation Sans, sans-serif">Dosage Recorded (μM)</text>
<text x="23.50" y="183.30" font-size="12.7" font-weight="bold" fill="#000" font-family="Liberation Sans, sans-serif">E. Radical O2-</text>
<text x="23.50" y="196.30" font-size="7.72" fill="#1a1a1a" stroke="#1a1a1a" stroke-width="0.18" font-family="Liberation Sans, sans-serif">R² = 0.682 , p = 0.289 , Model = Q</text>
<text transform="translate(6.90,257.40) rotate(-90)" text-anchor="middle" font-size="10.5" fill="#000" font-family="Liberation Sans, sans-serif">g</text>
<line x1="29.80" y1="244.65" x2="29.80" y2="252.65" stroke="#1c981c" stroke-width="1.2"/>
<line x1="71.60" y1="261.95" x2="71.60" y2="291.95" stroke="#1c981c" stroke-width="1.2"/>
<line x1="85.53" y1="255.35" x2="85.53" y2="268.65" stroke="#1c981c" stroke-width="1.2"/>
<line x1="127.33" y1="263.65" x2="127.33" y2="292.95" stroke="#1c981c" stroke-width="1.2"/>
<line x1="155.20" y1="257.65" x2="155.20" y2="275.25" stroke="#1c981c" stroke-width="1.2"/>
<circle cx="29.80" cy="248.65" r="2.25" fill="#008b00"/>
<circle cx="71.60" cy="276.95" r="2.25" fill="#008b00"/>
<circle cx="85.53" cy="261.95" r="2.25" fill="#008b00"/>
<circle cx="127.33" cy="278.65" r="2.25" fill="#008b00"/>
<circle cx="155.20" cy="266.25" r="2.25" fill="#008b00"/>
<polygon points="29.80,208.45 30.64,209.90 31.48,211.31 32.32,212.70 33.17,214.05 34.01,215.37 34.85,216.66 35.69,217.91 36.53,219.13 37.37,220.32 38.22,221.47 39.06,222.59 39.90,223.67 40.74,224.72 41.58,225.73 42.42,226.71 43.27,227.65 44.11,228.55 44.95,229.43 45.79,230.26 46.63,231.06 47.47,231.83 48.32,232.56 49.16,233.26 50.00,233.92 50.84,234.56 51.68,235.16 52.52,235.73 53.37,236.27 54.21,236.78 55.05,237.26 55.89,237.71 56.73,238.14 57.57,238.54 58.41,238.92 59.26,239.27 60.10,239.61 60.94,239.92 61.78,240.21 62.62,240.49 63.46,240.75 64.31,240.99 65.15,241.22 65.99,241.43 66.83,241.64 67.67,241.83 68.51,242.01 69.36,242.18 70.20,242.34 71.04,242.49 71.88,242.64 72.72,242.77 73.56,242.91 74.41,243.04 75.25,243.16 76.09,243.28 76.93,243.40 77.77,243.51 78.61,243.62 79.46,243.73 80.30,243.84 81.14,243.94 81.98,244.05 82.82,244.16 83.66,244.26 84.50,244.37 85.35,244.47 86.19,244.58 87.03,244.69 87.87,244.80 88.71,244.91 89.55,245.02 90.40,245.13 91.24,245.25 92.08,245.36 92.92,245.48 93.76,245.60 94.60,245.72 95.45,245.85 96.29,245.97 97.13,246.10 97.97,246.23 98.81,246.36 99.65,246.49 100.50,246.62 101.34,246.75 102.18,246.88 103.02,247.02 103.86,247.15 104.70,247.29 105.54,247.42 106.39,247.56 107.23,247.69 108.07,247.82 108.91,247.95 109.75,248.08 110.59,248.21 111.44,248.33 112.28,248.45 113.12,248.56 113.96,248.67 114.80,248.78 115.64,248.88 116.49,248.97 117.33,249.05 118.17,249.13 119.01,249.19 119.85,249.25 120.69,249.29 121.54,249.32 122.38,249.34 123.22,249.35 124.06,249.34 124.90,249.31 125.74,249.26 126.59,249.20 127.43,249.12 128.27,249.01 129.11,248.88 129.95,248.73 130.79,248.55 131.63,248.35 132.48,248.12 133.32,247.87 134.16,247.58 135.00,247.26 135.84,246.91 136.68,246.53 137.53,246.12 138.37,245.67 139.21,245.19 140.05,244.68 140.89,244.13 141.73,243.55 142.58,242.93 143.42,242.27 144.26,241.58 145.10,240.85 145.94,240.09 146.78,239.29 147.63,238.46 148.47,237.59 149.31,236.69 150.15,235.75 150.99,234.78 151.83,233.78 152.68,232.74 153.52,231.67 154.36,230.56 155.20,229.43 155.20,306.21 154.36,305.63 153.52,305.07 152.68,304.54 151.83,304.02 150.99,303.53 150.15,303.06 149.31,302.61 148.47,302.19 147.63,301.79 146.78,301.41 145.94,301.06 145.10,300.74 144.26,300.43 143.42,300.16 142.58,299.91 141.73,299.68 140.89,299.48 140.05,299.30 139.21,299.14 138.37,299.01 137.53,298.90 136.68,298.82 135.84,298.75 135.00,298.71 134.16,298.69 133.32,298.68 132.48,298.70 131.63,298.73 130.79,298.78 129.95,298.84 129.11,298.92 128.27,299.01 127.43,299.11 126.59,299.23 125.74,299.35 124.90,299.48 124.06,299.61 123.22,299.76 122.38,299.90 121.54,300.05 120.69,300.21 119.85,300.36 119.01,300.51 118.17,300.67 117.33,300.82 116.49,300.97 115.64,301.12 114.80,301.26 113.96,301.40 113.12,301.53 112.28,301.66 111.44,301.78 110.59,301.89 109.75,301.99 108.91,302.09 108.07,302.18 107.23,302.26 106.39,302.32 105.54,302.38 104.70,302.43 103.86,302.47 103.02,302.50 102.18,302.51 101.34,302.52 100.50,302.51 99.65,302.49 98.81,302.46 97.97,302.41 97.13,302.36 96.29,302.29 95.45,302.21 94.60,302.11 93.76,302.01 92.92,301.89 92.08,301.76 91.24,301.61 90.40,301.46 89.55,301.29 88.71,301.11 87.87,300.91 87.03,300.71 86.19,300.49 85.35,300.26 84.50,300.02 83.66,299.77 82.82,299.51 81.98,299.23 81.14,298.95 80.30,298.65 79.46,298.35 78.61,298.03 77.77,297.71 76.93,297.38 76.09,297.04 75.25,296.69 74.41,296.34 73.56,295.98 72.72,295.61 71.88,295.24 71.04,294.86 70.20,294.48 69.36,294.10 68.51,293.72 67.67,293.33 66.83,292.95 65.99,292.56 65.15,292.18 64.31,291.80 63.46,291.42 62.62,291.05 61.78,290.69 60.94,290.33 60.10,289.98 59.26,289.64 58.41,289.31 57.57,289.00 56.73,288.69 55.89,288.40 55.05,288.13 54.21,287.87 53.37,287.63 52.52,287.41 51.68,287.21 50.84,287.02 50.00,286.86 49.16,286.72 48.32,286.61 47.47,286.51 46.63,286.44 45.79,286.40 44.95,286.38 44.11,286.38 43.27,286.40 42.42,286.46 41.58,286.53 40.74,286.63 39.90,286.76 39.06,286.90 38.22,287.08 37.37,287.27 36.53,287.49 35.69,287.73 34.85,288.00 34.01,288.28 33.17,288.59 32.32,288.92 31.48,289.28 30.64,289.65 29.80,290.04" fill="#999999" fill-opacity="0.4" stroke="none"/>
<polyline points="29.80,249.25 30.64,249.77 31.48,250.29 32.32,250.81 33.17,251.32 34.01,251.83 34.85,252.33 35.69,252.82 36.53,253.31 37.37,253.79 38.22,254.27 39.06,254.74 39.90,255.21 40.74,255.67 41.58,256.13 42.42,256.58 43.27,257.03 44.11,257.47 44.95,257.90 45.79,258.33 46.63,258.75 47.47,259.17 48.32,259.58 49.16,259.99 50.00,260.39 50.84,260.79 51.68,261.18 52.52,261.57 53.37,261.95 54.21,262.32 55.05,262.69 55.89,263.06 56.73,263.41 57.57,263.77 58.41,264.12 59.26,264.46 60.10,264.79 60.94,265.13 61.78,265.45 62.62,265.77 63.46,266.09 64.31,266.40 65.15,266.70 65.99,267.00 66.83,267.29 67.67,267.58 68.51,267.86 69.36,268.14 70.20,268.41 71.04,268.68 71.88,268.94 72.72,269.19 73.56,269.44 74.41,269.69 75.25,269.93 76.09,270.16 76.93,270.39 77.77,270.61 78.61,270.83 79.46,271.04 80.30,271.24 81.14,271.45 81.98,271.64 82.82,271.83 83.66,272.02 84.50,272.19 85.35,272.37 86.19,272.54 87.03,272.70 87.87,272.86 88.71,273.01 89.55,273.15 90.40,273.30 91.24,273.43 92.08,273.56 92.92,273.69 93.76,273.80 94.60,273.92 95.45,274.03 96.29,274.13 97.13,274.23 97.97,274.32 98.81,274.41 99.65,274.49 100.50,274.56 101.34,274.63 102.18,274.70 103.02,274.76 103.86,274.81 104.70,274.86 105.54,274.90 106.39,274.94 107.23,274.97 108.07,275.00 108.91,275.02 109.75,275.04 110.59,275.05 111.44,275.05 112.28,275.05 113.12,275.05 113.96,275.03 114.80,275.02 115.64,275.00 116.49,274.97 117.33,274.94 118.17,274.90 119.01,274.85 119.85,274.80 120.69,274.75 121.54,274.69 122.38,274.62 123.22,274.55 124.06,274.48 124.90,274.39 125.74,274.31 126.59,274.21 127.43,274.11 128.27,274.01 129.11,273.90 129.95,273.79 130.79,273.67 131.63,273.54 132.48,273.41 133.32,273.27 134.16,273.13 135.00,272.99 135.84,272.83 136.68,272.68 137.53,272.51 138.37,272.34 139.21,272.17 140.05,271.99 140.89,271.80 141.73,271.61 142.58,271.42 143.42,271.21 144.26,271.01 145.10,270.80 145.94,270.58 146.78,270.35 147.63,270.12 148.47,269.89 149.31,269.65 150.15,269.41 150.99,269.16 151.83,268.90 152.68,268.64 153.52,268.37 154.36,268.10 155.20,267.82" fill="none" stroke="#ff0000" stroke-opacity="1" stroke-width="2.4" stroke-linejoin="round"/>
<path d="M23.50,203.20 V311.00 H161.30" fill="none" stroke="#1a1a1a" stroke-width="1.1" stroke-linecap="square"/>
<line x1="20.80" y1="304.00" x2="23.50" y2="304.00" stroke="#1a1a1a" stroke-width="1.1"/>
<text x="18.30" y="307.10" text-anchor="end" font-size="8.4" fill="#4d4d4d" stroke="#4d4d4d" stroke-width="0.15" font-family="Liberation Sans, sans-serif">-2</text>
<line x1="20.80" y1="268.00" x2="23.50" y2="268.00" stroke="#1a1a1a" stroke-width="1.1"/>
<text x="18.30" y="271.10" text-anchor="end" font-size="8.4" fill="#4d4d4d" stroke="#4d4d4d" stroke-width="0.15" font-family="Liberation Sans, sans-serif">-1</text>
<line x1="20.80" y1="232.00" x2="23.50" y2="232.00" stroke="#1a1a1a" stroke-width="1.1"/>
<text x="18.30" y="235.10" text-anchor="end" font-size="8.4" fill="#4d4d4d" stroke="#4d4d4d" stroke-width="0.15" font-family="Liberation Sans, sans-serif">0</text>
<line x1="50.70" y1="311.00" x2="50.70" y2="313.70" stroke="#1a1a1a" stroke-width="1.1"/>
<text x="50.70" y="321.80" text-anchor="middle" font-size="8.4" fill="#4d4d4d" stroke="#4d4d4d" stroke-width="0.15" font-family="Liberation Sans, sans-serif">250</text>
<line x1="85.53" y1="311.00" x2="85.53" y2="313.70" stroke="#1a1a1a" stroke-width="1.1"/>
<text x="85.53" y="321.80" text-anchor="middle" font-size="8.4" fill="#4d4d4d" stroke="#4d4d4d" stroke-width="0.15" font-family="Liberation Sans, sans-serif">500</text>
<line x1="120.37" y1="311.00" x2="120.37" y2="313.70" stroke="#1a1a1a" stroke-width="1.1"/>
<text x="120.37" y="321.80" text-anchor="middle" font-size="8.4" fill="#4d4d4d" stroke="#4d4d4d" stroke-width="0.15" font-family="Liberation Sans, sans-serif">750</text>
<line x1="155.20" y1="311.00" x2="155.20" y2="313.70" stroke="#1a1a1a" stroke-width="1.1"/>
<text x="155.20" y="321.80" text-anchor="middle" font-size="8.4" fill="#4d4d4d" stroke="#4d4d4d" stroke-width="0.15" font-family="Liberation Sans, sans-serif">1000</text>
<text x="92.40" y="334.10" text-anchor="middle" font-size="10.6" fill="#000" font-family="Liberation Sans, sans-serif">Dosage Recorded (μM)</text>
<text x="196.90" y="183.30" font-size="12.7" font-weight="bold" fill="#000" font-family="Liberation Sans, sans-serif">F. ABTS</text>
<text x="196.90" y="196.30" font-size="7.72" fill="#1a1a1a" stroke="#1a1a1a" stroke-width="0.18" font-family="Liberation Sans, sans-serif">R² = 0.336 , p = 0.607 , Model = L</text>
<text transform="translate(180.00,257.40) rotate(-90)" text-anchor="middle" font-size="10.5" fill="#000" font-family="Liberation Sans, sans-serif">g</text>
<line x1="203.05" y1="260.50" x2="203.05" y2="263.50" stroke="#1c981c" stroke-width="1.2"/>
<line x1="259.00" y1="251.00" x2="259.00" y2="257.20" stroke="#1c981c" stroke-width="1.2"/>
<line x1="328.60" y1="253.70" x2="328.60" y2="261.50" stroke="#1c981c" stroke-width="1.2"/>
<circle cx="203.05" cy="262.00" r="2.25" fill="#008b00"/>
<circle cx="259.00" cy="254.20" r="2.25" fill="#008b00"/>
<circle cx="328.60" cy="257.30" r="2.25" fill="#008b00"/>
<polygon points="203.05,214.28 203.89,214.63 204.74,214.97 205.58,215.32 206.42,215.66 207.26,215.99 208.11,216.33 208.95,216.66 209.79,216.99 210.63,217.32 211.48,217.64 212.32,217.97 213.16,218.29 214.00,218.60 214.85,218.92 215.69,219.23 216.53,219.53 217.37,219.84 218.22,220.14 219.06,220.44 219.90,220.73 220.74,221.02 221.59,221.31 222.43,221.59 223.27,221.87 224.12,222.15 224.96,222.42 225.80,222.68 226.64,222.95 227.49,223.21 228.33,223.46 229.17,223.71 230.01,223.96 230.86,224.20 231.70,224.43 232.54,224.67 233.38,224.89 234.23,225.11 235.07,225.33 235.91,225.54 236.75,225.74 237.60,225.94 238.44,226.14 239.28,226.32 240.13,226.51 240.97,226.68 241.81,226.85 242.65,227.01 243.50,227.17 244.34,227.32 245.18,227.46 246.02,227.60 246.87,227.73 247.71,227.85 248.55,227.97 249.39,228.08 250.24,228.18 251.08,228.28 251.92,228.36 252.76,228.44 253.61,228.51 254.45,228.58 255.29,228.63 256.13,228.68 256.98,228.72 257.82,228.76 258.66,228.78 259.51,228.80 260.35,228.81 261.19,228.81 262.03,228.80 262.88,228.78 263.72,228.76 264.56,228.73 265.40,228.69 266.25,228.64 267.09,228.58 267.93,228.52 268.77,228.45 269.62,228.37 270.46,228.28 271.30,228.18 272.14,228.08 272.99,227.96 273.83,227.84 274.67,227.72 275.52,227.58 276.36,227.44 277.20,227.29 278.04,227.13 278.89,226.97 279.73,226.80 280.57,226.62 281.41,226.43 282.26,226.24 283.10,226.04 283.94,225.84 284.78,225.62 285.63,225.40 286.47,225.18 287.31,224.95 288.15,224.71 289.00,224.47 289.84,224.22 290.68,223.96 291.52,223.70 292.37,223.44 293.21,223.17 294.05,222.89 294.90,222.61 295.74,222.32 296.58,222.03 297.42,221.74 298.27,221.43 299.11,221.13 299.95,220.82 300.79,220.51 301.64,220.19 302.48,219.86 303.32,219.54 304.16,219.21 305.01,218.87 305.85,218.53 306.69,218.19 307.53,217.85 308.38,217.50 309.22,217.14 310.06,216.79 310.91,216.43 311.75,216.07 312.59,215.70 313.43,215.33 314.28,214.96 315.12,214.59 315.96,214.21 316.80,213.83 317.65,213.45 318.49,213.06 319.33,212.67 320.17,212.28 321.02,211.89 321.86,211.50 322.70,211.10 323.54,210.70 324.39,210.30 325.23,209.89 326.07,209.49 326.91,209.08 327.76,208.67 328.60,208.26 328.60,303.80 327.76,303.45 326.91,303.09 326.07,302.74 325.23,302.39 324.39,302.04 323.54,301.69 322.70,301.35 321.86,301.00 321.02,300.66 320.17,300.33 319.33,299.99 318.49,299.66 317.65,299.33 316.80,299.00 315.96,298.67 315.12,298.35 314.28,298.03 313.43,297.71 312.59,297.40 311.75,297.09 310.91,296.78 310.06,296.48 309.22,296.18 308.38,295.88 307.53,295.58 306.69,295.29 305.85,295.00 305.01,294.72 304.16,294.44 303.32,294.17 302.48,293.89 301.64,293.62 300.79,293.36 299.95,293.10 299.11,292.85 298.27,292.60 297.42,292.35 296.58,292.11 295.74,291.87 294.90,291.64 294.05,291.41 293.21,291.19 292.37,290.97 291.52,290.76 290.68,290.56 289.84,290.36 289.00,290.16 288.15,289.97 287.31,289.79 286.47,289.62 285.63,289.44 284.78,289.28 283.94,289.12 283.10,288.97 282.26,288.83 281.41,288.69 280.57,288.56 279.73,288.43 278.89,288.32 278.04,288.21 277.20,288.10 276.36,288.01 275.52,287.92 274.67,287.84 273.83,287.77 272.99,287.70 272.14,287.65 271.30,287.60 270.46,287.55 269.62,287.52 268.77,287.50 267.93,287.48 267.09,287.47 266.25,287.47 265.40,287.47 264.56,287.49 263.72,287.51 262.88,287.54 262.03,287.58 261.19,287.63 260.35,287.68 259.51,287.74 258.66,287.82 257.82,287.90 256.98,287.98 256.13,288.08 255.29,288.18 254.45,288.29 253.61,288.41 252.76,288.54 251.92,288.67 251.08,288.81 250.24,288.96 249.39,289.12 248.55,289.28 247.71,289.45 246.87,289.63 246.02,289.81 245.18,290.01 244.34,290.20 243.50,290.41 242.65,290.62 241.81,290.84 240.97,291.06 240.13,291.29 239.28,291.53 238.44,291.77 237.60,292.02 236.75,292.27 235.91,292.53 235.07,292.80 234.23,293.07 233.38,293.34 232.54,293.62 231.70,293.91 230.86,294.20 230.01,294.50 229.17,294.80 228.33,295.10 227.49,295.41 226.64,295.72 225.80,296.04 224.96,296.36 224.12,296.69 223.27,297.02 222.43,297.35 221.59,297.69 220.74,298.03 219.90,298.38 219.06,298.73 218.22,299.08 217.37,299.43 216.53,299.79 215.69,300.16 214.85,300.52 214.00,300.89 213.16,301.26 212.32,301.63 211.48,302.01 210.63,302.39 209.79,302.77 208.95,303.16 208.11,303.54 207.26,303.93 206.42,304.33 205.58,304.72 204.74,305.12 203.89,305.52 203.05,305.92" fill="#999999" fill-opacity="0.4" stroke="none"/>
<polyline points="203.05,260.10 203.89,260.07 204.74,260.05 205.58,260.02 206.42,259.99 207.26,259.96 208.11,259.94 208.95,259.91 209.79,259.88 210.63,259.85 211.48,259.83 212.32,259.80 213.16,259.77 214.00,259.75 214.85,259.72 215.69,259.69 216.53,259.66 217.37,259.64 218.22,259.61 219.06,259.58 219.90,259.55 220.74,259.53 221.59,259.50 222.43,259.47 223.27,259.44 224.12,259.42 224.96,259.39 225.80,259.36 226.64,259.34 227.49,259.31 228.33,259.28 229.17,259.25 230.01,259.23 230.86,259.20 231.70,259.17 232.54,259.14 233.38,259.12 234.23,259.09 235.07,259.06 235.91,259.04 236.75,259.01 237.60,258.98 238.44,258.95 239.28,258.93 240.13,258.90 240.97,258.87 241.81,258.84 242.65,258.82 243.50,258.79 244.34,258.76 245.18,258.73 246.02,258.71 246.87,258.68 247.71,258.65 248.55,258.63 249.39,258.60 250.24,258.57 251.08,258.54 251.92,258.52 252.76,258.49 253.61,258.46 254.45,258.43 255.29,258.41 256.13,258.38 256.98,258.35 257.82,258.33 258.66,258.30 259.51,258.27 260.35,258.24 261.19,258.22 262.03,258.19 262.88,258.16 263.72,258.13 264.56,258.11 265.40,258.08 266.25,258.05 267.09,258.03 267.93,258.00 268.77,257.97 269.62,257.94 270.46,257.92 271.30,257.89 272.14,257.86 272.99,257.83 273.83,257.81 274.67,257.78 275.52,257.75 276.36,257.72 277.20,257.70 278.04,257.67 278.89,257.64 279.73,257.62 280.57,257.59 281.41,257.56 282.26,257.53 283.10,257.51 283.94,257.48 284.78,257.45 285.63,257.42 286.47,257.40 287.31,257.37 288.15,257.34 289.00,257.32 289.84,257.29 290.68,257.26 291.52,257.23 292.37,257.21 293.21,257.18 294.05,257.15 294.90,257.12 295.74,257.10 296.58,257.07 297.42,257.04 298.27,257.02 299.11,256.99 299.95,256.96 300.79,256.93 301.64,256.91 302.48,256.88 303.32,256.85 304.16,256.82 305.01,256.80 305.85,256.77 306.69,256.74 307.53,256.71 308.38,256.69 309.22,256.66 310.06,256.63 310.91,256.61 311.75,256.58 312.59,256.55 313.43,256.52 314.28,256.50 315.12,256.47 315.96,256.44 316.80,256.41 317.65,256.39 318.49,256.36 319.33,256.33 320.17,256.31 321.02,256.28 321.86,256.25 322.70,256.22 323.54,256.20 324.39,256.17 325.23,256.14 326.07,256.11 326.91,256.09 327.76,256.06 328.60,256.03" fill="none" stroke="#0000ff" stroke-opacity="1" stroke-width="2.4" stroke-linejoin="round"/>
<path d="M196.90,203.20 V311.00 H334.60" fill="none" stroke="#1a1a1a" stroke-width="1.1" stroke-linecap="square"/>
<line x1="194.20" y1="290.60" x2="196.90" y2="290.60" stroke="#1a1a1a" stroke-width="1.1"/>
<text x="191.70" y="293.70" text-anchor="end" font-size="8.4" fill="#4d4d4d" stroke="#4d4d4d" stroke-width="0.15" font-family="Liberation Sans, sans-serif">-2</text>
<line x1="194.20" y1="268.23" x2="196.90" y2="268.23" stroke="#1a1a1a" stroke-width="1.1"/>
<text x="191.70" y="271.33" text-anchor="end" font-size="8.4" fill="#4d4d4d" stroke="#4d4d4d" stroke-width="0.15" font-family="Liberation Sans, sans-serif">0</text>
<line x1="194.20" y1="245.87" x2="196.90" y2="245.87" stroke="#1a1a1a" stroke-width="1.1"/>
<text x="191.70" y="248.97" text-anchor="end" font-size="8.4" fill="#4d4d4d" stroke="#4d4d4d" stroke-width="0.15" font-family="Liberation Sans, sans-serif">2</text>
<line x1="194.20" y1="223.50" x2="196.90" y2="223.50" stroke="#1a1a1a" stroke-width="1.1"/>
<text x="191.70" y="226.60" text-anchor="end" font-size="8.4" fill="#4d4d4d" stroke="#4d4d4d" stroke-width="0.15" font-family="Liberation Sans, sans-serif">4</text>
<line x1="224.15" y1="311.00" x2="224.15" y2="313.70" stroke="#1a1a1a" stroke-width="1.1"/>
<text x="224.15" y="321.80" text-anchor="middle" font-size="8.4" fill="#4d4d4d" stroke="#4d4d4d" stroke-width="0.15" font-family="Liberation Sans, sans-serif">250</text>
<line x1="258.90" y1="311.00" x2="258.90" y2="313.70" stroke="#1a1a1a" stroke-width="1.1"/>
<text x="258.90" y="321.80" text-anchor="middle" font-size="8.4" fill="#4d4d4d" stroke="#4d4d4d" stroke-width="0.15" font-family="Liberation Sans, sans-serif">500</text>
<line x1="293.65" y1="311.00" x2="293.65" y2="313.70" stroke="#1a1a1a" stroke-width="1.1"/>
<text x="293.65" y="321.80" text-anchor="middle" font-size="8.4" fill="#4d4d4d" stroke="#4d4d4d" stroke-width="0.15" font-family="Liberation Sans, sans-serif">750</text>
<line x1="328.40" y1="311.00" x2="328.40" y2="313.70" stroke="#1a1a1a" stroke-width="1.1"/>
<text x="328.40" y="321.80" text-anchor="middle" font-size="8.4" fill="#4d4d4d" stroke="#4d4d4d" stroke-width="0.15" font-family="Liberation Sans, sans-serif">1000</text>
<text x="265.75" y="334.10" text-anchor="middle" font-size="10.6" fill="#000" font-family="Liberation Sans, sans-serif">Dosage Recorded (μM)</text>
<text x="373.90" y="183.30" font-size="12.7" font-weight="bold" fill="#000" font-family="Liberation Sans, sans-serif">G. CUPRAC</text>
<text x="373.90" y="196.30" font-size="7.72" fill="#1a1a1a" stroke="#1a1a1a" stroke-width="0.18" font-family="Liberation Sans, sans-serif">R² = 0.249 , p = 0.392 , Model = L</text>
<text transform="translate(353.10,257.40) rotate(-90)" text-anchor="middle" font-size="10.5" fill="#000" font-family="Liberation Sans, sans-serif">g</text>
<line x1="379.81" y1="242.50" x2="379.81" y2="266.40" stroke="#1c981c" stroke-width="1.2"/>
<line x1="393.36" y1="275.70" x2="393.36" y2="290.40" stroke="#1c981c" stroke-width="1.2"/>
<line x1="406.92" y1="263.80" x2="406.92" y2="287.00" stroke="#1c981c" stroke-width="1.2"/>
<line x1="434.30" y1="219.30" x2="434.30" y2="305.60" stroke="#000000" stroke-width="1.2"/>
<line x1="502.10" y1="208.10" x2="502.10" y2="296.80" stroke="#000000" stroke-width="1.2"/>
<circle cx="379.81" cy="254.80" r="2.25" fill="#008b00"/>
<circle cx="393.36" cy="283.10" r="2.25" fill="#008b00"/>
<circle cx="406.92" cy="275.40" r="2.25" fill="#008b00"/>
<circle cx="434.30" cy="262.50" r="2.25" fill="#000"/>
<circle cx="502.10" cy="252.80" r="2.25" fill="#000"/>
<polygon points="379.81,245.51 380.63,245.60 381.45,245.69 382.27,245.77 383.09,245.85 383.91,245.93 384.73,246.01 385.55,246.08 386.37,246.15 387.19,246.22 388.01,246.28 388.83,246.34 389.65,246.40 390.48,246.46 391.30,246.51 392.12,246.56 392.94,246.60 393.76,246.64 394.58,246.68 395.40,246.71 396.22,246.75 397.04,246.77 397.86,246.80 398.68,246.81 399.50,246.83 400.32,246.84 401.15,246.85 401.97,246.85 402.79,246.85 403.61,246.85 404.43,246.84 405.25,246.82 406.07,246.80 406.89,246.78 407.71,246.75 408.53,246.72 409.35,246.68 410.17,246.64 410.99,246.59 411.82,246.54 412.64,246.49 413.46,246.42 414.28,246.36 415.10,246.29 415.92,246.21 416.74,246.13 417.56,246.04 418.38,245.95 419.20,245.86 420.02,245.75 420.84,245.65 421.66,245.54 422.49,245.42 423.31,245.30 424.13,245.17 424.95,245.04 425.77,244.90 426.59,244.76 427.41,244.61 428.23,244.46 429.05,244.30 429.87,244.14 430.69,243.97 431.51,243.80 432.33,243.62 433.16,243.44 433.98,243.26 434.80,243.07 435.62,242.87 436.44,242.67 437.26,242.47 438.08,242.26 438.90,242.04 439.72,241.83 440.54,241.60 441.36,241.38 442.18,241.15 443.00,240.91 443.83,240.68 444.65,240.43 445.47,240.19 446.29,239.94 447.11,239.68 447.93,239.43 448.75,239.17 449.57,238.90 450.39,238.63 451.21,238.36 452.03,238.09 452.85,237.81 453.67,237.53 454.50,237.25 455.32,236.96 456.14,236.67 456.96,236.38 457.78,236.08 458.60,235.78 459.42,235.48 460.24,235.18 461.06,234.87 461.88,234.56 462.70,234.25 463.52,233.94 464.34,233.62 465.17,233.31 465.99,232.98 466.81,232.66 467.63,232.34 468.45,232.01 469.27,231.68 470.09,231.35 470.91,231.02 471.73,230.68 472.55,230.35 473.37,230.01 474.19,229.67 475.01,229.32 475.84,228.98 476.66,228.64 477.48,228.29 478.30,227.94 479.12,227.59 479.94,227.24 480.76,226.88 481.58,226.53 482.40,226.17 483.22,225.82 484.04,225.46 484.86,225.10 485.68,224.74 486.51,224.37 487.33,224.01 488.15,223.65 488.97,223.28 489.79,222.91 490.61,222.54 491.43,222.17 492.25,221.80 493.07,221.43 493.89,221.06 494.71,220.69 495.53,220.31 496.35,219.94 497.18,219.56 498.00,219.18 498.82,218.81 499.64,218.43 500.46,218.05 501.28,217.67 502.10,217.28 502.10,292.79 501.28,292.63 500.46,292.47 499.64,292.31 498.82,292.15 498.00,291.99 497.18,291.84 496.35,291.68 495.53,291.53 494.71,291.37 493.89,291.22 493.07,291.07 492.25,290.92 491.43,290.77 490.61,290.62 489.79,290.47 488.97,290.33 488.15,290.18 487.33,290.04 486.51,289.89 485.68,289.75 484.86,289.61 484.04,289.47 483.22,289.33 482.40,289.20 481.58,289.06 480.76,288.93 479.94,288.80 479.12,288.67 478.30,288.54 477.48,288.41 476.66,288.28 475.84,288.16 475.01,288.03 474.19,287.91 473.37,287.79 472.55,287.68 471.73,287.56 470.91,287.45 470.09,287.33 469.27,287.22 468.45,287.12 467.63,287.01 466.81,286.91 465.99,286.80 465.17,286.70 464.34,286.61 463.52,286.51 462.70,286.42 461.88,286.33 461.06,286.24 460.24,286.15 459.42,286.07 458.60,285.99 457.78,285.91 456.96,285.84 456.14,285.77 455.32,285.70 454.50,285.63 453.67,285.57 452.85,285.51 452.03,285.45 451.21,285.40 450.39,285.35 449.57,285.30 448.75,285.26 447.93,285.22 447.11,285.18 446.29,285.15 445.47,285.12 444.65,285.10 443.83,285.08 443.00,285.06 442.18,285.04 441.36,285.04 440.54,285.03 439.72,285.03 438.90,285.03 438.08,285.04 437.26,285.05 436.44,285.07 435.62,285.09 434.80,285.11 433.98,285.14 433.16,285.18 432.33,285.22 431.51,285.26 430.69,285.31 429.87,285.36 429.05,285.42 428.23,285.49 427.41,285.56 426.59,285.63 425.77,285.71 424.95,285.79 424.13,285.88 423.31,285.97 422.49,286.07 421.66,286.18 420.84,286.29 420.02,286.40 419.20,286.52 418.38,286.64 417.56,286.77 416.74,286.91 415.92,287.05 415.10,287.19 414.28,287.34 413.46,287.50 412.64,287.66 411.82,287.82 410.99,287.99 410.17,288.16 409.35,288.34 408.53,288.53 407.71,288.72 406.89,288.91 406.07,289.11 405.25,289.31 404.43,289.51 403.61,289.73 402.79,289.94 401.97,290.16 401.15,290.38 400.32,290.61 399.50,290.84 398.68,291.08 397.86,291.32 397.04,291.57 396.22,291.81 395.40,292.06 394.58,292.32 393.76,292.58 392.94,292.84 392.12,293.11 391.30,293.38 390.48,293.65 389.65,293.92 388.83,294.20 388.01,294.49 387.19,294.77 386.37,295.06 385.55,295.35 384.73,295.64 383.91,295.94 383.09,296.24 382.27,296.54 381.45,296.85 380.63,297.16 379.81,297.47" fill="#999999" fill-opacity="0.4" stroke="none"/>
<polyline points="379.81,271.49 380.63,271.38 381.45,271.27 382.27,271.16 383.09,271.05 383.91,270.94 384.73,270.82 385.55,270.71 386.37,270.60 387.19,270.49 388.01,270.38 388.83,270.27 389.65,270.16 390.48,270.05 391.30,269.94 392.12,269.83 392.94,269.72 393.76,269.61 394.58,269.50 395.40,269.39 396.22,269.28 397.04,269.17 397.86,269.06 398.68,268.95 399.50,268.84 400.32,268.73 401.15,268.62 401.97,268.51 402.79,268.40 403.61,268.29 404.43,268.18 405.25,268.06 406.07,267.95 406.89,267.84 407.71,267.73 408.53,267.62 409.35,267.51 410.17,267.40 410.99,267.29 411.82,267.18 412.64,267.07 413.46,266.96 414.28,266.85 415.10,266.74 415.92,266.63 416.74,266.52 417.56,266.41 418.38,266.30 419.20,266.19 420.02,266.08 420.84,265.97 421.66,265.86 422.49,265.75 423.31,265.64 424.13,265.53 424.95,265.41 425.77,265.30 426.59,265.19 427.41,265.08 428.23,264.97 429.05,264.86 429.87,264.75 430.69,264.64 431.51,264.53 432.33,264.42 433.16,264.31 433.98,264.20 434.80,264.09 435.62,263.98 436.44,263.87 437.26,263.76 438.08,263.65 438.90,263.54 439.72,263.43 440.54,263.32 441.36,263.21 442.18,263.10 443.00,262.99 443.83,262.88 444.65,262.77 445.47,262.65 446.29,262.54 447.11,262.43 447.93,262.32 448.75,262.21 449.57,262.10 450.39,261.99 451.21,261.88 452.03,261.77 452.85,261.66 453.67,261.55 454.50,261.44 455.32,261.33 456.14,261.22 456.96,261.11 457.78,261.00 458.60,260.89 459.42,260.78 460.24,260.67 461.06,260.56 461.88,260.45 462.70,260.34 463.52,260.23 464.34,260.12 465.17,260.00 465.99,259.89 466.81,259.78 467.63,259.67 468.45,259.56 469.27,259.45 470.09,259.34 470.91,259.23 471.73,259.12 472.55,259.01 473.37,258.90 474.19,258.79 475.01,258.68 475.84,258.57 476.66,258.46 477.48,258.35 478.30,258.24 479.12,258.13 479.94,258.02 480.76,257.91 481.58,257.80 482.40,257.69 483.22,257.58 484.04,257.47 484.86,257.35 485.68,257.24 486.51,257.13 487.33,257.02 488.15,256.91 488.97,256.80 489.79,256.69 490.61,256.58 491.43,256.47 492.25,256.36 493.07,256.25 493.89,256.14 494.71,256.03 495.53,255.92 496.35,255.81 497.18,255.70 498.00,255.59 498.82,255.48 499.64,255.37 500.46,255.26 501.28,255.15 502.10,255.04" fill="none" stroke="#0000ff" stroke-opacity="1" stroke-width="2.4" stroke-linejoin="round"/>
<path d="M373.90,203.20 V311.00 H507.80" fill="none" stroke="#1a1a1a" stroke-width="1.1" stroke-linecap="square"/>
<line x1="371.20" y1="275.30" x2="373.90" y2="275.30" stroke="#1a1a1a" stroke-width="1.1"/>
<text x="368.70" y="278.40" text-anchor="end" font-size="8.4" fill="#4d4d4d" stroke="#4d4d4d" stroke-width="0.15" font-family="Liberation Sans, sans-serif">0.5</text>
<line x1="371.20" y1="235.40" x2="373.90" y2="235.40" stroke="#1a1a1a" stroke-width="1.1"/>
<text x="368.70" y="238.50" text-anchor="end" font-size="8.4" fill="#4d4d4d" stroke="#4d4d4d" stroke-width="0.15" font-family="Liberation Sans, sans-serif">1.0</text>
<line x1="393.36" y1="311.00" x2="393.36" y2="313.70" stroke="#1a1a1a" stroke-width="1.1"/>
<text x="393.36" y="321.80" text-anchor="middle" font-size="8.4" fill="#4d4d4d" stroke="#4d4d4d" stroke-width="0.15" font-family="Liberation Sans, sans-serif">100</text>
<line x1="420.47" y1="311.00" x2="420.47" y2="313.70" stroke="#1a1a1a" stroke-width="1.1"/>
<text x="420.47" y="321.80" text-anchor="middle" font-size="8.4" fill="#4d4d4d" stroke="#4d4d4d" stroke-width="0.15" font-family="Liberation Sans, sans-serif">200</text>
<line x1="447.58" y1="311.00" x2="447.58" y2="313.70" stroke="#1a1a1a" stroke-width="1.1"/>
<text x="447.58" y="321.80" text-anchor="middle" font-size="8.4" fill="#4d4d4d" stroke="#4d4d4d" stroke-width="0.15" font-family="Liberation Sans, sans-serif">300</text>
<line x1="474.69" y1="311.00" x2="474.69" y2="313.70" stroke="#1a1a1a" stroke-width="1.1"/>
<text x="474.69" y="321.80" text-anchor="middle" font-size="8.4" fill="#4d4d4d" stroke="#4d4d4d" stroke-width="0.15" font-family="Liberation Sans, sans-serif">400</text>
<line x1="501.80" y1="311.00" x2="501.80" y2="313.70" stroke="#1a1a1a" stroke-width="1.1"/>
<text x="501.80" y="321.80" text-anchor="middle" font-size="8.4" fill="#4d4d4d" stroke="#4d4d4d" stroke-width="0.15" font-family="Liberation Sans, sans-serif">500</text>
<text x="440.85" y="334.10" text-anchor="middle" font-size="10.6" fill="#000" font-family="Liberation Sans, sans-serif">Dosage Recorded (μM)</text>
<text x="547.40" y="183.30" font-size="12.7" font-weight="bold" fill="#000" font-family="Liberation Sans, sans-serif">H. DPPH</text>
<text x="547.40" y="196.30" font-size="7.72" fill="#1a1a1a" stroke="#1a1a1a" stroke-width="0.18" font-family="Liberation Sans, sans-serif">R² = 0.62 , p = &lt;0.05 , Model = Q</text>
<text transform="translate(526.30,257.40) rotate(-90)" text-anchor="middle" font-size="10.5" fill="#000" font-family="Liberation Sans, sans-serif">g</text>
<line x1="553.42" y1="283.00" x2="553.42" y2="294.80" stroke="#000000" stroke-width="1.2"/>
<line x1="557.60" y1="274.20" x2="557.60" y2="280.80" stroke="#1c981c" stroke-width="1.2"/>
<line x1="559.74" y1="266.90" x2="559.74" y2="305.80" stroke="#000000" stroke-width="1.2"/>
<line x1="561.80" y1="274.20" x2="561.80" y2="287.60" stroke="#1c981c" stroke-width="1.2"/>
<line x1="570.28" y1="267.70" x2="570.28" y2="300.80" stroke="#000000" stroke-width="1.2"/>
<line x1="591.37" y1="240.10" x2="591.37" y2="263.80" stroke="#1c981c" stroke-width="1.2"/>
<line x1="633.53" y1="266.20" x2="633.53" y2="289.60" stroke="#000000" stroke-width="1.2"/>
<line x1="675.70" y1="217.70" x2="675.70" y2="254.70" stroke="#1c981c" stroke-width="1.2"/>
<circle cx="553.42" cy="289.20" r="2.25" fill="#000"/>
<circle cx="557.60" cy="277.50" r="2.25" fill="#008b00"/>
<circle cx="559.74" cy="286.00" r="2.25" fill="#000"/>
<circle cx="561.80" cy="281.50" r="2.25" fill="#008b00"/>
<circle cx="570.28" cy="284.30" r="2.25" fill="#000"/>
<circle cx="591.37" cy="252.30" r="2.25" fill="#008b00"/>
<circle cx="633.53" cy="278.00" r="2.25" fill="#000"/>
<circle cx="675.70" cy="236.50" r="2.25" fill="#008b00"/>
<polygon points="553.42,263.69 554.24,264.18 555.06,264.64 555.88,265.06 556.70,265.44 557.52,265.77 558.34,266.06 559.16,266.31 559.98,266.51 560.80,266.66 561.62,266.77 562.44,266.82 563.26,266.83 564.09,266.79 564.91,266.70 565.73,266.56 566.55,266.38 567.37,266.16 568.19,265.89 569.01,265.59 569.83,265.26 570.65,264.89 571.47,264.49 572.29,264.07 573.11,263.62 573.93,263.15 574.75,262.67 575.58,262.17 576.40,261.65 577.22,261.12 578.04,260.59 578.86,260.04 579.68,259.49 580.50,258.94 581.32,258.38 582.14,257.82 582.96,257.26 583.78,256.70 584.60,256.14 585.42,255.58 586.24,255.02 587.07,254.47 587.89,253.92 588.71,253.37 589.53,252.83 590.35,252.29 591.17,251.76 591.99,251.24 592.81,250.72 593.63,250.20 594.45,249.70 595.27,249.20 596.09,248.70 596.91,248.22 597.73,247.74 598.55,247.27 599.38,246.81 600.20,246.35 601.02,245.90 601.84,245.47 602.66,245.03 603.48,244.61 604.30,244.19 605.12,243.79 605.94,243.39 606.76,243.00 607.58,242.61 608.40,242.24 609.22,241.87 610.04,241.51 610.87,241.16 611.69,240.82 612.51,240.49 613.33,240.16 614.15,239.84 614.97,239.53 615.79,239.23 616.61,238.93 617.43,238.64 618.25,238.36 619.07,238.08 619.89,237.82 620.71,237.56 621.53,237.30 622.35,237.05 623.18,236.81 624.00,236.57 624.82,236.34 625.64,236.12 626.46,235.90 627.28,235.68 628.10,235.47 628.92,235.27 629.74,235.07 630.56,234.87 631.38,234.67 632.20,234.48 633.02,234.29 633.84,234.10 634.67,233.91 635.49,233.72 636.31,233.53 637.13,233.35 637.95,233.16 638.77,232.97 639.59,232.77 640.41,232.58 641.23,232.37 642.05,232.17 642.87,231.96 643.69,231.74 644.51,231.51 645.33,231.28 646.16,231.03 646.98,230.78 647.80,230.51 648.62,230.23 649.44,229.94 650.26,229.63 651.08,229.31 651.90,228.97 652.72,228.61 653.54,228.23 654.36,227.83 655.18,227.41 656.00,226.97 656.82,226.50 657.64,226.01 658.47,225.50 659.29,224.96 660.11,224.39 660.93,223.80 661.75,223.17 662.57,222.52 663.39,221.84 664.21,221.14 665.03,220.40 665.85,219.63 666.67,218.84 667.49,218.01 668.31,217.16 669.13,216.27 669.96,215.36 670.78,214.42 671.60,213.45 672.42,212.45 673.24,211.43 674.06,210.37 674.88,209.29 675.70,208.18 675.70,276.26 674.88,275.92 674.06,275.60 673.24,275.30 672.42,275.03 671.60,274.79 670.78,274.57 669.96,274.38 669.13,274.21 668.31,274.07 667.49,273.95 666.67,273.86 665.85,273.80 665.03,273.77 664.21,273.76 663.39,273.77 662.57,273.82 661.75,273.89 660.93,273.98 660.11,274.10 659.29,274.24 658.47,274.41 657.64,274.60 656.82,274.81 656.00,275.04 655.18,275.30 654.36,275.57 653.54,275.86 652.72,276.17 651.90,276.50 651.08,276.84 650.26,277.19 649.44,277.56 648.62,277.94 647.80,278.33 646.98,278.73 646.16,279.14 645.33,279.56 644.51,279.99 643.69,280.42 642.87,280.85 642.05,281.29 641.23,281.73 640.41,282.17 639.59,282.62 638.77,283.06 637.95,283.51 637.13,283.95 636.31,284.39 635.49,284.83 634.67,285.27 633.84,285.70 633.02,286.13 632.20,286.56 631.38,286.98 630.56,287.39 629.74,287.80 628.92,288.20 628.10,288.60 627.28,288.98 626.46,289.36 625.64,289.74 624.82,290.10 624.00,290.46 623.18,290.81 622.35,291.14 621.53,291.47 620.71,291.80 619.89,292.11 619.07,292.41 618.25,292.70 617.43,292.98 616.61,293.26 615.79,293.52 614.97,293.77 614.15,294.01 613.33,294.24 612.51,294.46 611.69,294.67 610.87,294.87 610.04,295.05 609.22,295.23 608.40,295.40 607.58,295.55 606.76,295.69 605.94,295.83 605.12,295.95 604.30,296.06 603.48,296.16 602.66,296.25 601.84,296.33 601.02,296.39 600.20,296.45 599.38,296.49 598.55,296.53 597.73,296.55 596.91,296.57 596.09,296.57 595.27,296.56 594.45,296.55 593.63,296.52 592.81,296.48 591.99,296.44 591.17,296.39 590.35,296.32 589.53,296.25 588.71,296.18 587.89,296.09 587.07,296.00 586.24,295.90 585.42,295.79 584.60,295.68 583.78,295.57 582.96,295.45 582.14,295.33 581.32,295.20 580.50,295.08 579.68,294.96 578.86,294.84 578.04,294.72 577.22,294.60 576.40,294.50 575.58,294.40 574.75,294.31 573.93,294.24 573.11,294.18 572.29,294.14 571.47,294.12 570.65,294.12 569.83,294.15 569.01,294.20 568.19,294.29 567.37,294.42 566.55,294.58 565.73,294.78 564.91,295.03 564.09,295.32 563.26,295.65 562.44,296.03 561.62,296.45 560.80,296.92 559.98,297.43 559.16,297.99 558.34,298.60 557.52,299.24 556.70,299.93 555.88,300.65 555.06,301.42 554.24,302.22 553.42,303.05" fill="#999999" fill-opacity="0.4" stroke="none"/>
<polyline points="553.42,283.37 554.24,283.20 555.06,283.03 555.88,282.86 556.70,282.68 557.52,282.51 558.34,282.33 559.16,282.15 559.98,281.97 560.80,281.79 561.62,281.61 562.44,281.42 563.26,281.24 564.09,281.05 564.91,280.86 565.73,280.67 566.55,280.48 567.37,280.29 568.19,280.09 569.01,279.90 569.83,279.70 570.65,279.50 571.47,279.30 572.29,279.10 573.11,278.90 573.93,278.70 574.75,278.49 575.58,278.28 576.40,278.07 577.22,277.86 578.04,277.65 578.86,277.44 579.68,277.23 580.50,277.01 581.32,276.79 582.14,276.57 582.96,276.35 583.78,276.13 584.60,275.91 585.42,275.68 586.24,275.46 587.07,275.23 587.89,275.00 588.71,274.77 589.53,274.54 590.35,274.31 591.17,274.07 591.99,273.84 592.81,273.60 593.63,273.36 594.45,273.12 595.27,272.88 596.09,272.64 596.91,272.39 597.73,272.15 598.55,271.90 599.38,271.65 600.20,271.40 601.02,271.15 601.84,270.90 602.66,270.64 603.48,270.38 604.30,270.13 605.12,269.87 605.94,269.61 606.76,269.35 607.58,269.08 608.40,268.82 609.22,268.55 610.04,268.28 610.87,268.02 611.69,267.75 612.51,267.47 613.33,267.20 614.15,266.93 614.97,266.65 615.79,266.37 616.61,266.09 617.43,265.81 618.25,265.53 619.07,265.25 619.89,264.96 620.71,264.68 621.53,264.39 622.35,264.10 623.18,263.81 624.00,263.52 624.82,263.22 625.64,262.93 626.46,262.63 627.28,262.33 628.10,262.03 628.92,261.73 629.74,261.43 630.56,261.13 631.38,260.82 632.20,260.52 633.02,260.21 633.84,259.90 634.67,259.59 635.49,259.28 636.31,258.96 637.13,258.65 637.95,258.33 638.77,258.01 639.59,257.70 640.41,257.37 641.23,257.05 642.05,256.73 642.87,256.40 643.69,256.08 644.51,255.75 645.33,255.42 646.16,255.09 646.98,254.76 647.80,254.42 648.62,254.09 649.44,253.75 650.26,253.41 651.08,253.07 651.90,252.73 652.72,252.39 653.54,252.05 654.36,251.70 655.18,251.35 656.00,251.01 656.82,250.66 657.64,250.31 658.47,249.95 659.29,249.60 660.11,249.24 660.93,248.89 661.75,248.53 662.57,248.17 663.39,247.81 664.21,247.45 665.03,247.08 665.85,246.72 666.67,246.35 667.49,245.98 668.31,245.61 669.13,245.24 669.96,244.87 670.78,244.50 671.60,244.12 672.42,243.74 673.24,243.36 674.06,242.99 674.88,242.60 675.70,242.22" fill="none" stroke="#ff0000" stroke-opacity="1" stroke-width="2.4" stroke-linejoin="round"/>
<path d="M547.40,203.20 V311.00 H681.50" fill="none" stroke="#1a1a1a" stroke-width="1.1" stroke-linecap="square"/>
<line x1="544.70" y1="296.70" x2="547.40" y2="296.70" stroke="#1a1a1a" stroke-width="1.1"/>
<text x="542.20" y="299.80" text-anchor="end" font-size="8.4" fill="#4d4d4d" stroke="#4d4d4d" stroke-width="0.15" font-family="Liberation Sans, sans-serif">0.0</text>
<line x1="544.70" y1="274.82" x2="547.40" y2="274.82" stroke="#1a1a1a" stroke-width="1.1"/>
<text x="542.20" y="277.93" text-anchor="end" font-size="8.4" fill="#4d4d4d" stroke="#4d4d4d" stroke-width="0.15" font-family="Liberation Sans, sans-serif">0.5</text>
<line x1="544.70" y1="252.95" x2="547.40" y2="252.95" stroke="#1a1a1a" stroke-width="1.1"/>
<text x="542.20" y="256.05" text-anchor="end" font-size="8.4" fill="#4d4d4d" stroke="#4d4d4d" stroke-width="0.15" font-family="Liberation Sans, sans-serif">1.0</text>
<line x1="544.70" y1="231.07" x2="547.40" y2="231.07" stroke="#1a1a1a" stroke-width="1.1"/>
<text x="542.20" y="234.17" text-anchor="end" font-size="8.4" fill="#4d4d4d" stroke="#4d4d4d" stroke-width="0.15" font-family="Liberation Sans, sans-serif">1.5</text>
<line x1="544.70" y1="209.20" x2="547.40" y2="209.20" stroke="#1a1a1a" stroke-width="1.1"/>
<text x="542.20" y="212.30" text-anchor="end" font-size="8.4" fill="#4d4d4d" stroke="#4d4d4d" stroke-width="0.15" font-family="Liberation Sans, sans-serif">2.0</text>
<line x1="549.20" y1="311.00" x2="549.20" y2="313.70" stroke="#1a1a1a" stroke-width="1.1"/>
<text x="549.20" y="321.80" text-anchor="middle" font-size="8.4" fill="#4d4d4d" stroke="#4d4d4d" stroke-width="0.15" font-family="Liberation Sans, sans-serif">0</text>
<line x1="591.37" y1="311.00" x2="591.37" y2="313.70" stroke="#1a1a1a" stroke-width="1.1"/>
<text x="591.37" y="321.80" text-anchor="middle" font-size="8.4" fill="#4d4d4d" stroke="#4d4d4d" stroke-width="0.15" font-family="Liberation Sans, sans-serif">500</text>
<line x1="633.53" y1="311.00" x2="633.53" y2="313.70" stroke="#1a1a1a" stroke-width="1.1"/>
<text x="633.53" y="321.80" text-anchor="middle" font-size="8.4" fill="#4d4d4d" stroke="#4d4d4d" stroke-width="0.15" font-family="Liberation Sans, sans-serif">1000</text>
<line x1="675.70" y1="311.00" x2="675.70" y2="313.70" stroke="#1a1a1a" stroke-width="1.1"/>
<text x="675.70" y="321.80" text-anchor="middle" font-size="8.4" fill="#4d4d4d" stroke="#4d4d4d" stroke-width="0.15" font-family="Liberation Sans, sans-serif">1500</text>
<text x="614.45" y="334.10" text-anchor="middle" font-size="10.6" fill="#000" font-family="Liberation Sans, sans-serif">Dosage Recorded (μM)</text>
</svg>
</body></html>
